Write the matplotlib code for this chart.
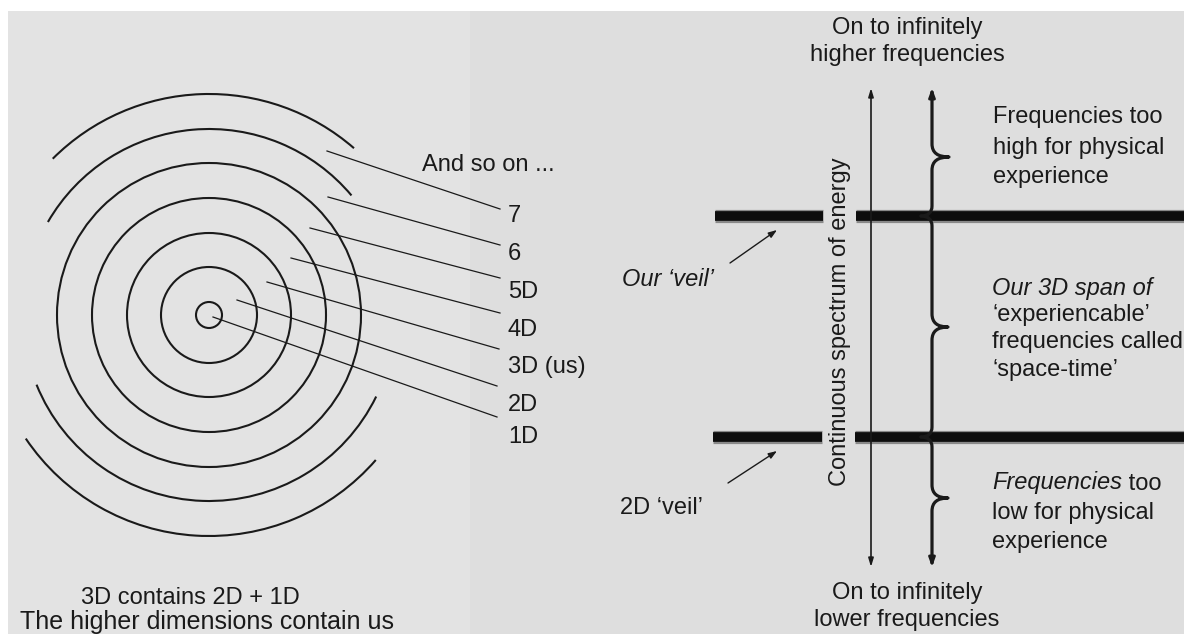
import matplotlib
matplotlib.use("Agg")
import matplotlib.pyplot as plt
from matplotlib.patches import Circle, Arc, Rectangle, PathPatch
from matplotlib.path import Path

# ---------------- content ----------------
dim_labels = ["7", "6", "5D", "4D", "3D (us)", "2D", "1D"]
more_label = "And so on ..."
left_caption = ["3D contains 2D + 1D", "The higher dimensions contain us"]
top_caption = ["On to infinitely", "higher frequencies"]
bottom_caption = ["On to infinitely", "lower frequencies"]
axis_label = "Continuous spectrum of energy"
high_text = ["Frequencies too", "high for physical", "experience"]
span_text = ["Our 3D span of", "\u2018experiencable\u2019", "frequencies called", "\u2018space-time\u2019"]
low_text = ["Frequencies", " too", "low for physical", "experience"]
veil_labels = ["Our \u2018veil\u2019", "2D \u2018veil\u2019"]

# ---------------- layout (pixel space) ----------------
W, H = 1184, 634
FONT = "Liberation Sans"
FS = 17
INK = "#1a1a1a"

fig = plt.figure(figsize=(W / 100, H / 100), dpi=100, facecolor="white")
ax = fig.add_axes([0, 0, 1, 1])
ax.set_xlim(0, W)
ax.set_ylim(H, 0)
ax.axis("off")

ax.add_patch(Rectangle((8, 11), W - 8, H - 11, facecolor="#e3e3e3", edgecolor="none", zorder=0))
ax.add_patch(Rectangle((470, 11), W - 470, H - 11, facecolor="#dedede", edgecolor="none", zorder=0))

# ---- concentric dimensions ----
cx, cy = 209, 315
ring_r = [13, 48, 82, 117, 152, 186, 221]
for r in ring_r[:5]:
    ax.add_patch(Circle((cx, cy), r, fill=False, ec=INK, lw=1.5, zorder=2))
arcs = [(186, -150, -40), (186, 26, 158), (221, -135, -49), (221, 41, 146)]
for r, t1, t2 in arcs:
    ax.add_patch(Arc((cx, cy), 2 * r, 2 * r, theta1=t1, theta2=t2, ec=INK, lw=1.5, zorder=2))

lead_start = [(327, 151), (328, 197), (310, 228), (291, 258), (267, 282), (237, 300), (213, 317)]
lead_end = [(500, 209), (500, 245), (500, 278), (500, 313), (499, 349), (497, 386), (497, 417)]
label_y = [216, 254, 292, 330, 367, 405, 437]
for (x0, y0), (x1, y1), lab, ly in zip(lead_start, lead_end, dim_labels, label_y):
    ax.plot([x0, x1], [y0, y1], color=INK, lw=0.9, zorder=2)
    ax.text(508, ly, lab, fontsize=FS, family=FONT, color=INK, ha="left", va="center")
ax.text(422, 165, more_label, fontsize=FS, family=FONT, color=INK, ha="left", va="center")

ax.text(190, 598, left_caption[0], fontsize=FS, family=FONT, color=INK, ha="center", va="center")
ax.text(207, 622, left_caption[1], fontsize=18, family=FONT, color=INK, ha="center", va="center")

# ---- spectrum diagram ----
veil_y = [216, 437]
veil_segments = [[(715, 823), (856, W)], [(713, 822), (855, W)]]
for vy, segs in zip(veil_y, veil_segments):
    for xa, xb in segs:
        ax.plot([xa, xb], [vy, vy], color="#444444", lw=9.5, solid_capstyle="butt", alpha=0.55, zorder=3)
        ax.plot([xa, xb], [vy, vy], color="#0d0d0d", lw=7, solid_capstyle="butt", zorder=3)

x_thin, x_brace = 871, 932
y_top, y_bot = 88, 567
ax.annotate("", xy=(x_thin, y_top), xytext=(x_thin, y_bot),
            arrowprops=dict(arrowstyle="<|-|>,head_length=0.5,head_width=0.15", color=INK, lw=1.2,
                            shrinkA=0, shrinkB=0), zorder=4)


def brace(x, ya, yb, ym, tip, hook_top, hook_bot):
    verts, codes = [], []
    hk, rr, rc = 11, 10, 13
    if hook_top:
        verts += [(x - hk, ya), (x, ya), (x, ya + rr)]
        codes += [Path.MOVETO, Path.CURVE3, Path.CURVE3]
    else:
        verts += [(x, ya)]
        codes += [Path.MOVETO]
    verts += [(x, ym - rc), (x, ym), (x + tip, ym), (x, ym), (x, ym + rc)]
    codes += [Path.LINETO, Path.CURVE3, Path.CURVE3, Path.CURVE3, Path.CURVE3]
    if hook_bot:
        verts += [(x, yb - rr), (x, yb), (x - hk, yb)]
        codes += [Path.LINETO, Path.CURVE3, Path.CURVE3]
    else:
        verts += [(x, yb)]
        codes += [Path.LINETO]
    ax.add_patch(PathPatch(Path(verts, codes), fill=False, ec=INK, lw=2.3, zorder=4,
                           capstyle="round", joinstyle="round"))


brace(x_brace, y_top + 4, veil_y[0], 157, 17, False, True)
brace(x_brace, veil_y[0], veil_y[1], 327, 16, True, True)
brace(x_brace, veil_y[1], y_bot - 4, 498, 16, True, False)
for ya, yb in [(y_top + 12, y_top), (y_bot - 12, y_bot)]:
    ax.annotate("", xy=(x_brace, yb), xytext=(x_brace, ya),
                arrowprops=dict(arrowstyle="-|>,head_length=0.5,head_width=0.18", color=INK, lw=2.0,
                                shrinkA=0, shrinkB=0), zorder=4)

ax.text(840, 322, axis_label, fontsize=FS, family=FONT, color=INK, rotation=90,
        ha="center", va="center")

for txt, yy in zip(top_caption, [28, 55]):
    ax.text(907, yy, txt, fontsize=FS, family=FONT, color=INK, ha="center", va="center")
for txt, yy in zip(bottom_caption, [593, 620]):
    ax.text(907, yy, txt, fontsize=FS, family=FONT, color=INK, ha="center", va="center")

for txt, yy in zip(high_text, [117, 148, 177]):
    ax.text(993, yy, txt, fontsize=FS, family=FONT, color=INK, ha="left", va="center")
for i, (txt, yy) in enumerate(zip(span_text, [289, 315, 342, 370])):
    ax.text(992, yy, txt, fontsize=FS, family=FONT, color=INK, ha="left", va="center",
            style="italic" if i == 0 else "normal")
t_it = ax.text(992, 483, low_text[0], fontsize=FS, family=FONT, color=INK, ha="left", va="center",
               style="italic")
ax.annotate(low_text[1], xy=(1, 0), xycoords=t_it, fontsize=FS, family=FONT, color=INK,
            ha="left", va="bottom")
for txt, yy in zip(low_text[2:], [513, 542]):
    ax.text(992, yy, txt, fontsize=FS, family=FONT, color=INK, ha="left", va="center")

# veil labels and pointers
ax.text(622, 280, veil_labels[0], fontsize=FS, family=FONT, color=INK, ha="left", va="center",
        style="italic")
ax.text(620, 508, veil_labels[1], fontsize=FS, family=FONT, color=INK, ha="left", va="center")
for (x0, y0), (x1, y1) in [((730, 263), (777, 230)), ((728, 483), (777, 451))]:
    ax.annotate("", xy=(x1, y1), xytext=(x0, y0),
                arrowprops=dict(arrowstyle="-|>,head_length=0.5,head_width=0.18", color=INK, lw=1.0,
                                shrinkA=0, shrinkB=0), zorder=4)

fig.savefig("out.png", dpi=100, facecolor=fig.get_facecolor())
